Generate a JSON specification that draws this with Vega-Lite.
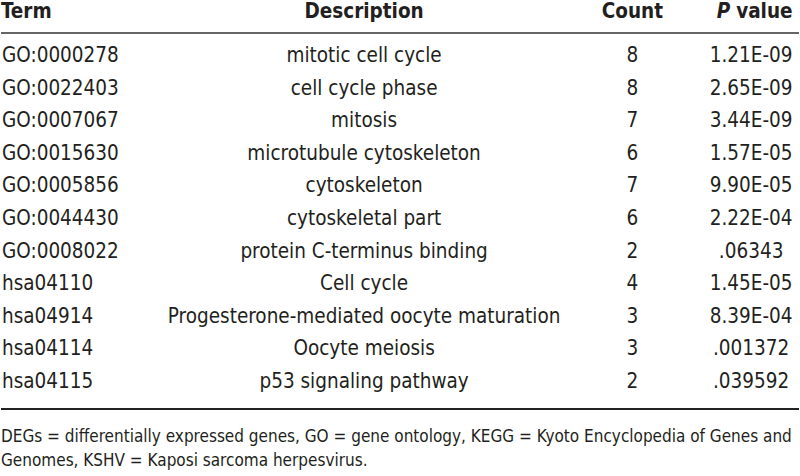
{
  "$schema": "https://vega.github.io/schema/vega-lite/v6.json",
  "width": 800,
  "height": 476,
  "autosize": {"type": "fit", "contains": "padding"},
  "padding": 0,
  "background": "white",
  "config": {
    "view": {"stroke": null},
    "text": {"font": "DejaVu Sans Condensed", "fontSize": 20.5, "color": "#231f20", "baseline": "middle"}
  },
  "datasets": {
    "rows": [
      {"row": 1, "term": "GO:0000278", "description": "mitotic cell cycle", "count": "8", "p": "1.21E-09"},
      {"row": 2, "term": "GO:0022403", "description": "cell cycle phase", "count": "8", "p": "2.65E-09"},
      {"row": 3, "term": "GO:0007067", "description": "mitosis", "count": "7", "p": "3.44E-09"},
      {"row": 4, "term": "GO:0015630", "description": "microtubule cytoskeleton", "count": "6", "p": "1.57E-05"},
      {"row": 5, "term": "GO:0005856", "description": "cytoskeleton", "count": "7", "p": "9.90E-05"},
      {"row": 6, "term": "GO:0044430", "description": "cytoskeletal part", "count": "6", "p": "2.22E-04"},
      {"row": 7, "term": "GO:0008022", "description": "protein C-terminus binding", "count": "2", "p": ".06343"},
      {"row": 8, "term": "hsa04110", "description": "Cell cycle", "count": "4", "p": "1.45E-05"},
      {"row": 9, "term": "hsa04914", "description": "Progesterone-mediated oocyte maturation", "count": "3", "p": "8.39E-04"},
      {"row": 10, "term": "hsa04114", "description": "Oocyte meiosis", "count": "3", "p": ".001372"},
      {"row": 11, "term": "hsa04115", "description": "p53 signaling pathway", "count": "2", "p": ".039592"}
    ],
    "one": [{}]
  },
  "data": {"name": "rows"},
  "layer": [
    {
      "mark": {"type": "text", "align": "left"},
      "encoding": {
        "x": {"datum": 1, "type": "quantitative", "scale": {"domain": [0, 800], "nice": false, "zero": false}, "axis": null},
        "y": {"field": "row", "type": "quantitative", "scale": {"domain": [-0.718, 13.883], "nice": false, "zero": false, "reverse": true}, "axis": null},
        "text": {"field": "term"}
      }
    },
    {
      "mark": {"type": "text", "align": "center"},
      "encoding": {
        "x": {"datum": 364, "type": "quantitative"},
        "y": {"field": "row", "type": "quantitative"},
        "text": {"field": "description"}
      }
    },
    {
      "mark": {"type": "text", "align": "center"},
      "encoding": {
        "x": {"datum": 633, "type": "quantitative"},
        "y": {"field": "row", "type": "quantitative"},
        "text": {"field": "count"}
      }
    },
    {
      "mark": {"type": "text", "align": "center"},
      "encoding": {
        "x": {"datum": 752, "type": "quantitative"},
        "y": {"field": "row", "type": "quantitative"},
        "text": {"field": "p"}
      }
    },
    {
      "data": {"name": "one"},
      "mark": {"type": "text", "align": "left", "fontWeight": "bold"},
      "encoding": {
        "x": {"datum": 0, "type": "quantitative"},
        "y": {"datum": -0.35, "type": "quantitative"},
        "text": {"value": "Term"}
      }
    },
    {
      "data": {"name": "one"},
      "mark": {"type": "text", "align": "center", "fontWeight": "bold"},
      "encoding": {
        "x": {"datum": 364, "type": "quantitative"},
        "y": {"datum": -0.35, "type": "quantitative"},
        "text": {"value": "Description"}
      }
    },
    {
      "data": {"name": "one"},
      "mark": {"type": "text", "align": "center", "fontWeight": "bold"},
      "encoding": {
        "x": {"datum": 633, "type": "quantitative"},
        "y": {"datum": -0.35, "type": "quantitative"},
        "text": {"value": "Count"}
      }
    },
    {
      "data": {"name": "one"},
      "mark": {"type": "text", "align": "right", "fontWeight": "bold", "fontStyle": "italic"},
      "encoding": {
        "x": {"datum": 731, "type": "quantitative"},
        "y": {"datum": -0.35, "type": "quantitative"},
        "text": {"value": "P"}
      }
    },
    {
      "data": {"name": "one"},
      "mark": {"type": "text", "align": "left", "fontWeight": "bold"},
      "encoding": {
        "x": {"datum": 737, "type": "quantitative"},
        "y": {"datum": -0.35, "type": "quantitative"},
        "text": {"value": "value"}
      }
    },
    {
      "data": {"name": "one"},
      "mark": {"type": "rule", "color": "#333333", "strokeWidth": 1.5},
      "encoding": {
        "x": {"datum": 0, "type": "quantitative"},
        "x2": {"datum": 800},
        "y": {"datum": 0.294, "type": "quantitative"}
      }
    },
    {
      "data": {"name": "one"},
      "mark": {"type": "rule", "color": "#222222", "strokeWidth": 2},
      "encoding": {
        "x": {"datum": 0, "type": "quantitative"},
        "x2": {"datum": 800},
        "y": {"datum": 11.83, "type": "quantitative"}
      }
    },
    {
      "data": {"name": "one"},
      "mark": {"type": "text", "align": "left", "fontSize": 17},
      "encoding": {
        "x": {"datum": 0, "type": "quantitative"},
        "y": {"datum": 12.69, "type": "quantitative"},
        "text": {"value": "DEGs = differentially expressed genes, GO = gene ontology, KEGG = Kyoto Encyclopedia of Genes and"}
      }
    },
    {
      "data": {"name": "one"},
      "mark": {"type": "text", "align": "left", "fontSize": 17},
      "encoding": {
        "x": {"datum": 0, "type": "quantitative"},
        "y": {"datum": 13.42, "type": "quantitative"},
        "text": {"value": "Genomes, KSHV = Kaposi sarcoma herpesvirus."}
      }
    }
  ]
}
